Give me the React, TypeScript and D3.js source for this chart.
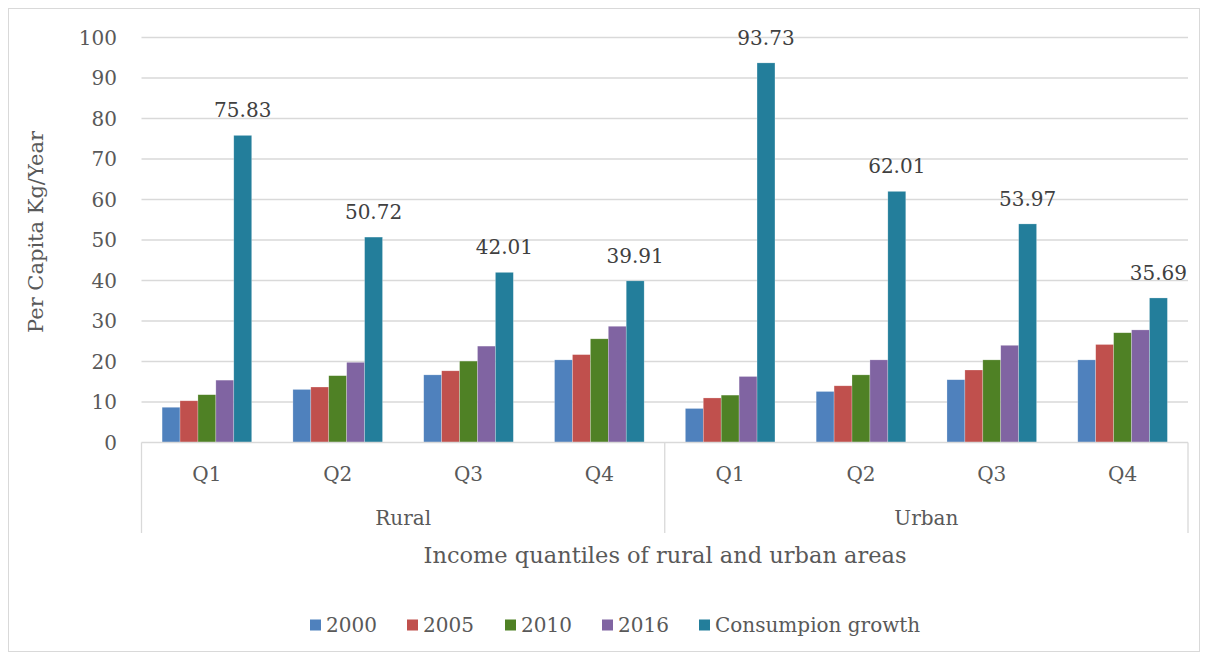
import React from "react";
import * as d3 from "d3";

const groups = ["Rural", "Urban"];
const quantiles = ["Q1", "Q2", "Q3", "Q4"];
const seriesNames = ["2000", "2005", "2010", "2016", "Consumpion growth"];
const colors = ["#4F81BD", "#C0504D", "#4F8125", "#8064A2", "#237E9B"];

const v2000 = [8.7, 13.1, 16.7, 20.4, 8.4, 12.6, 15.5, 20.4];
const v2005 = [10.3, 13.7, 17.7, 21.7, 11.0, 14.0, 17.9, 24.2];
const v2010 = [11.8, 16.5, 20.1, 25.6, 11.7, 16.7, 20.4, 27.1];
const v2016 = [15.4, 19.8, 23.8, 28.7, 16.3, 20.4, 24.0, 27.8];
const growth = [75.83, 50.72, 42.01, 39.91, 93.73, 62.01, 53.97, 35.69];
const yTicks = [0, 10, 20, 30, 40, 50, 60, 70, 80, 90, 100];

const seriesValues = [v2000, v2005, v2010, v2016, growth];

const W = 1192;
const H = 644;
const FONT = "'DejaVu Serif', serif";
const TXT = "#595959";

export default function App() {
  const left = 141.5;
  const right = 1188;
  const top = 37.5;
  const bottom = 442.5;
  const cats = groups.flatMap((g) => quantiles.map((q) => `${g}|${q}`));
  const x = d3.scaleBand<string>().domain(cats).range([left, right]).paddingInner(0).paddingOuter(0);
  const y = d3.scaleLinear().domain([0, 100]).range([bottom, top]);
  const catW = x.bandwidth();
  const groupW = catW * 0.685;
  const xs = d3
    .scaleBand<string>()
    .domain(seriesNames)
    .range([0, groupW]);
  const barW = xs.bandwidth();
  const groupX = d3.scaleBand<string>().domain(groups).range([left, right]);

  const legendX = [310, 407, 505, 602, 699];

  return (
    <svg width={W} height={H} style={{ display: "block" }}>
      <g transform="translate(-8,-8)">
        <rect x={8.5} y={8.5} width={W - 1} height={H - 1} fill="#fff" stroke="#D9D9D9" />
        {yTicks.map((t) => (
          <g key={t}>
            {t > 0 && (
              <line x1={left} x2={right} y1={y(t)} y2={y(t)} stroke="#D9D9D9" strokeWidth={1.3} />
            )}
            <text x={117} y={y(t)} dy="0.35em" textAnchor="end" fontFamily={FONT} fontSize={20} fill={TXT}>
              {t}
            </text>
          </g>
        ))}
        {seriesValues.map((vals, si) =>
          vals.map((v, ci) => {
            const cx = (x(cats[ci]) as number) + (catW - groupW) / 2 + (xs(seriesNames[si]) as number);
            return (
              <rect
                key={`${si}-${ci}`}
                x={cx}
                y={y(v)}
                width={barW}
                height={y(0) - y(v)}
                fill={colors[si]}
                stroke="#ffffff"
                strokeOpacity={0.4}
                strokeWidth={0.6}
              />
            );
          })
        )}
        {growth.map((v, ci) => {
          const cx = (x(cats[ci]) as number) + (catW - groupW) / 2 + (xs(seriesNames[4]) as number) + barW / 2;
          return (
            <text key={ci} x={cx} y={y(v) - 18} textAnchor="middle" fontFamily={FONT} fontSize={20} fill="#404040">
              {v.toFixed(2)}
            </text>
          );
        })}
        <line x1={left} x2={right} y1={bottom} y2={bottom} stroke="#D9D9D9" strokeWidth={1.3} />
        {[left, (left + right) / 2, right].map((lx, i) => (
          <line key={i} x1={lx} x2={lx} y1={bottom} y2={533} stroke="#D9D9D9" strokeWidth={1.3} />
        ))}
        {cats.map((c, ci) => (
          <text
            key={c}
            x={(x(c) as number) + catW / 2}
            y={474}
            dy="0.35em"
            textAnchor="middle"
            fontFamily={FONT}
            fontSize={20}
            fill={TXT}
          >
            {quantiles[ci % 4]}
          </text>
        ))}
        {groups.map((g) => (
          <text
            key={g}
            x={(groupX(g) as number) + groupX.bandwidth() / 2}
            y={518}
            dy="0.35em"
            textAnchor="middle"
            fontFamily={FONT}
            fontSize={20}
            fill={TXT}
          >
            {g}
          </text>
        ))}
        <text x={665} y={555} dy="0.35em" textAnchor="middle" fontFamily={FONT} fontSize={22.5} fill={TXT}>
          Income quantiles of rural and urban areas
        </text>
        <text
          transform={`translate(36,232) rotate(-90)`}
          dy="0.35em"
          textAnchor="middle"
          fontFamily={FONT}
          fontSize={21}
          fill={TXT}
        >
          Per Capita Kg/Year
        </text>
        {seriesNames.map((s, i) => (
          <g key={s} transform={`translate(${legendX[i]},625)`}>
            <rect x={0} y={-5.5} width={11} height={11} fill={colors[i]} />
            <text x={16} y={0} dy="0.35em" fontFamily={FONT} fontSize={20} fill={TXT}>
              {s}
            </text>
          </g>
        ))}
      </g>
    </svg>
  );
}
